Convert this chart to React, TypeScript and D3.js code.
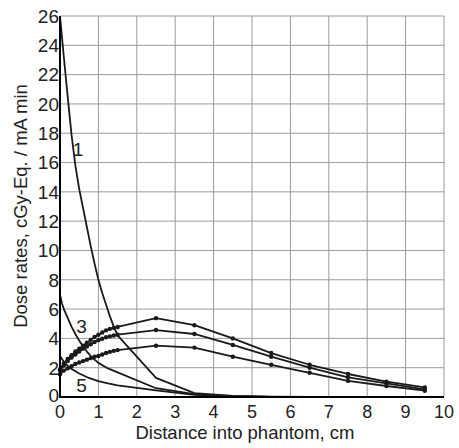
import React from "react";
import * as d3 from "d3";

const W = 459;
const H = 448;

const xTicks = [0, 1, 2, 3, 4, 5, 6, 7, 8, 9, 10];
const yTicks = [0, 2, 4, 6, 8, 10, 12, 14, 16, 18, 20, 22, 24, 26];

// Curve 1 (steep decay)
const c1X = [0, 0.1, 0.2, 0.3, 0.4, 0.5, 0.6, 0.7, 0.8, 0.9, 1.0, 1.1, 1.2, 1.3, 1.4, 1.5, 2.5, 3.5, 4.5, 5.5, 6.5];
const c1Y = [26, 23.2, 20.5, 17.9, 15.8, 14.2, 12.9, 11.6, 10.3, 9.1, 8.0, 7.1, 6.3, 5.5, 4.8, 4.2, 1.3, 0.27, 0.07, 0.02, 0.0];

// Curve starting near 7
const c2X = [0, 0.05, 0.1, 0.2, 0.3, 0.4, 0.5, 0.6, 0.7, 0.8, 0.9, 1.0, 1.25, 1.5, 2.5, 3.5, 4.5, 5.5];
const c2Y = [7.0, 6.4, 6.0, 5.4, 4.8, 4.3, 3.85, 3.45, 3.1, 2.8, 2.55, 2.33, 1.95, 1.68, 0.6, 0.2, 0.05, 0.01];

// Curve 5
const c5X = [0, 0.1, 0.25, 0.5, 0.75, 1.0, 1.25, 1.5, 2.5, 3.5, 4.5, 5.5];
const c5Y = [2.8, 2.4, 2.0, 1.6, 1.3, 1.08, 0.93, 0.8, 0.45, 0.15, 0.04, 0.01];

// Hump curves with markers
const hX = [0, 0.1, 0.2, 0.3, 0.4, 0.5, 0.6, 0.7, 0.8, 0.9, 1.0, 1.1, 1.2, 1.3, 1.4, 1.5, 2.5, 3.5, 4.5, 5.5, 6.5, 7.5, 8.5, 9.5];
const hA = [1.9, 2.3, 2.6, 2.85, 3.1, 3.3, 3.5, 3.7, 3.9, 4.1, 4.25, 4.4, 4.55, 4.65, 4.72, 4.78, 5.38, 4.9, 4.0, 3.0, 2.2, 1.57, 1.05, 0.66];
const hB = [1.8, 2.15, 2.45, 2.7, 2.9, 3.1, 3.3, 3.45, 3.6, 3.75, 3.88, 3.98, 4.08, 4.14, 4.2, 4.25, 4.57, 4.3, 3.55, 2.75, 2.0, 1.34, 0.93, 0.52];
const hC = [1.55, 1.8, 1.95, 2.1, 2.25, 2.35, 2.45, 2.55, 2.65, 2.75, 2.8, 2.9, 3.0, 3.08, 3.15, 3.2, 3.5, 3.37, 2.75, 2.2, 1.65, 1.1, 0.75, 0.43];

const curveLabels = [
  { text: "1", x: 0.47, y: 16.9 },
  { text: "3", x: 0.56, y: 4.85 },
  { text: "5", x: 0.56, y: 0.8 },
];

const FONT = "'Liberation Sans', Arial, sans-serif";

export default function App() {
  const x = d3.scaleLinear().domain([0, 10]).range([60, 444]);
  const y = d3.scaleLinear().domain([0, 26]).range([397, 16]);
  const lin = d3
    .line<[number, number]>()
    .x((d) => x(d[0]))
    .y((d) => y(d[1]));

  const zip = (xs: number[], ys: number[]) => xs.map((v, i) => [v, ys[i]] as [number, number]);
  const smooth = [zip(c1X, c1Y), zip(c2X, c2Y), zip(c5X, c5Y)];
  const humps = [zip(hX, hA), zip(hX, hB), zip(hX, hC)];
  const col = "#1a1a1a";

  return (
    <div style={{ position: "absolute", left: 0, top: 0 }}>
      <svg width={W} height={H} style={{ display: "block", background: "#fff" }}>
        {/* grid */}
        {xTicks.map((t) => (
          <line key={"gx" + t} x1={x(t)} x2={x(t)} y1={y(26)} y2={y(0)} stroke="#9a9a9a" strokeWidth={1} />
        ))}
        {yTicks.map((t) => (
          <line key={"gy" + t} x1={x(0)} x2={x(10)} y1={y(t)} y2={y(t)} stroke="#9a9a9a" strokeWidth={1} />
        ))}
        {/* curves */}
        {smooth.map((d, i) => (
          <path key={"s" + i} d={lin(d) || ""} fill="none" stroke={col} strokeWidth={1.8} strokeLinejoin="round" />
        ))}
        {humps.map((d, i) => (
          <g key={"h" + i}>
            <path d={lin(d) || ""} fill="none" stroke={col} strokeWidth={1.8} strokeLinejoin="round" />
            {d.map((p, j) => (
              <circle key={j} cx={x(p[0])} cy={y(p[1])} r={2.2} fill={col} />
            ))}
          </g>
        ))}
        {/* axes */}
        <line x1={x(0)} x2={x(0)} y1={y(26)} y2={y(0) + 1} stroke="#000" strokeWidth={2} />
        <line x1={x(0) - 1} x2={x(10)} y1={y(0)} y2={y(0)} stroke="#000" strokeWidth={2} />
        {/* tick labels */}
        {yTicks.map((t) => (
          <text key={"ty" + t} x={x(0) - 1} y={y(t) - (t === 0 ? 2 : 0)} dy="0.36em" textAnchor="end" fontFamily={FONT} fontSize={19} fill="#222">
            {t}
          </text>
        ))}
        {xTicks.map((t) => (
          <text key={"tx" + t} x={x(t)} y={418} textAnchor="middle" fontFamily={FONT} fontSize={18} fill="#222">
            {t}
          </text>
        ))}
        {/* curve labels */}
        {curveLabels.map((l) => (
          <text key={l.text} x={x(l.x)} y={y(l.y)} dy="0.36em" textAnchor="middle" fontFamily={FONT} fontSize={19} fill="#222">
            {l.text}
          </text>
        ))}
        {/* axis titles */}
        <text x={245} y={439} textAnchor="middle" fontFamily={FONT} fontSize={18.5} fill="#222">
          Distance into phantom, cm
        </text>
        <text
          transform={`translate(27, 206) rotate(-90)`}
          textAnchor="middle"
          fontFamily={FONT}
          fontSize={18.5}
          fill="#222"
        >
          Dose rates, cGy-Eq. / mA min
        </text>
      </svg>
    </div>
  );
}
